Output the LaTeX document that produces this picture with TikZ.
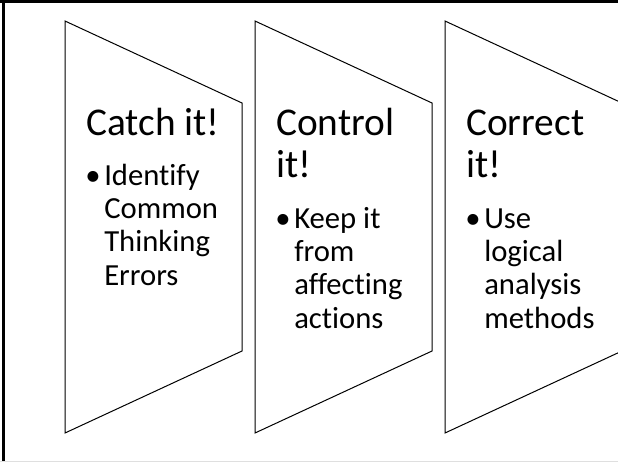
\documentclass[tikz,border=0pt]{standalone}
\usepackage{fontspec}
\setmainfont{Carlito}[Ligatures=NoCommon]
\tikzset{
  chevron/.style={draw=black, line width=0.75pt, line join=miter},
  headtext/.style={anchor=base west, inner sep=0pt, font=\fontsize{29.5}{31.5}\selectfont},
  itemtext/.style={anchor=base west, inner sep=0pt, font=\fontsize{23}{25}\selectfont},
}
\newcommand{\stack}[1]{\parbox[t]{150pt}{\raggedright #1}}
\begin{document}
\begin{tikzpicture}[x=0.75pt, y=-0.75pt]
  \useasboundingbox (0,0) rectangle (618,462);
  \clip (0,0) rectangle (618,462);
  % slide frame
  \fill[black] (0,0) rectangle (618,2.7);
  \fill[black] (2,0) rectangle (5,462);
  \draw[gray!25, line width=0.75pt] (0,461.5) -- (618,461.5);
  % three chevron panels
  \foreach \l in {65,255,445}{
    \draw[chevron] (\l,21) -- (\l+177,103) -- (\l+177,351) -- (\l,433) -- cycle;
  }
  % panel 1
  \node[headtext] (h1) at (86,135) {Catch it!};
  \node[itemtext] (d1) at (85,185) {•};
  \node[itemtext] (i1) at (104,185) {\stack{Identify\\Common\\Thinking\\Errors}};
  % panel 2
  \node[headtext] (h2) at (276,135) {\stack{Control\\it!}};
  \node[itemtext] (d2) at (275,228) {•};
  \node[itemtext] (i2) at (294,228) {\stack{Keep it\\from\\affecting\\actions}};
  % panel 3
  \node[headtext] (h3) at (466,135) {\stack{Correct\\it!}};
  \node[itemtext] (d3) at (465,228) {•};
  \node[itemtext] (i3) at (484,228) {\stack{Use\\logical\\analysis\\methods}};
\end{tikzpicture}
\end{document}
